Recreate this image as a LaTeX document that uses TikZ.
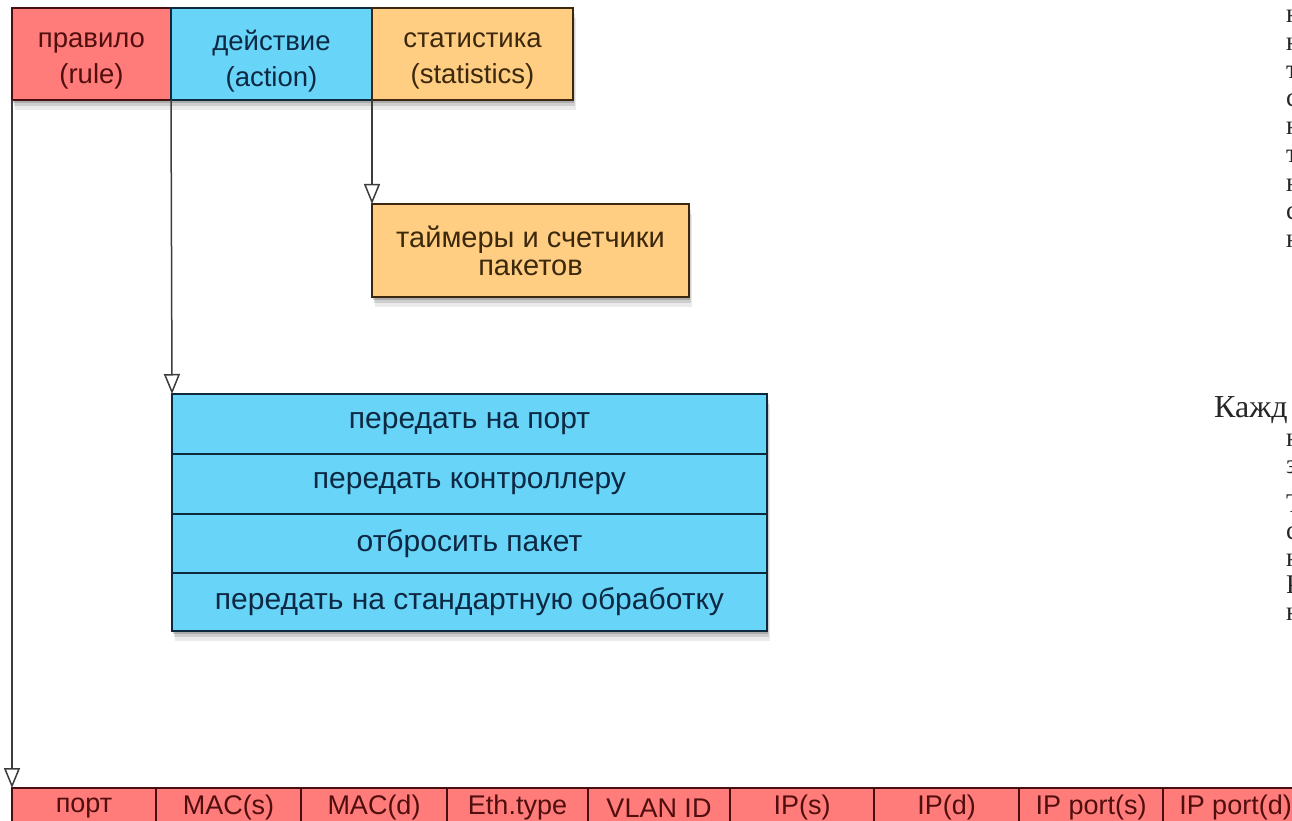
\documentclass[tikz,border=0pt]{standalone}
\usepackage{fontspec}
\setmainfont{Liberation Sans}
\newfontfamily\docserif{Liberation Serif}
\usetikzlibrary{arrows.meta,shadows}

\definecolor{cred}{RGB}{255,124,122}
\definecolor{credd}{RGB}{70,16,16}
\definecolor{credt}{RGB}{80,14,14}
\definecolor{cblue}{RGB}{104,212,248}
\definecolor{cblued}{RGB}{14,40,60}
\definecolor{cbluet}{RGB}{12,40,66}
\definecolor{corg}{RGB}{255,206,130}
\definecolor{corgd}{RGB}{60,40,14}
\definecolor{corgt}{RGB}{60,40,12}
\definecolor{cline}{RGB}{60,60,60}

\tikzset{
  softshadow/.style={
    drop shadow={shadow xshift=1pt,shadow yshift=-3pt,opacity=0.16,fill=black},
    drop shadow={shadow xshift=2pt,shadow yshift=-6pt,opacity=0.12,fill=black},
    drop shadow={shadow xshift=3pt,shadow yshift=-10pt,opacity=0.08,fill=black}},
  cell/.style={rectangle, draw, line width=1.6pt, inner sep=0pt, outer sep=0pt,
    anchor=north west, align=center, softshadow},
  redcell/.style={cell, fill=cred, draw=credd, text=credt,
    font=\fontsize{27}{35}\selectfont},
  bluecell/.style={cell, fill=cblue, draw=cblued, text=cbluet,
    font=\fontsize{30}{33}\selectfont},
  orgcell/.style={cell, fill=corg, draw=corgd, text=corgt,
    font=\fontsize{29}{28}\selectfont},
  hdtext/.style={inner sep=0pt, align=center, font=\fontsize{27.5}{36}\selectfont},
  conn/.style={line width=1.5pt, draw=cline,
    -{Triangle[open,length=20pt,width=16pt,fill=white]}},
  doctext/.style={anchor=base west, inner sep=0pt, text=black!85,
    font=\docserif\fontsize{32}{28}\selectfont},
  fragtext/.style={doctext, font=\docserif\fontsize{27}{28}\selectfont}
}

\begin{document}
\begin{tikzpicture}[x=1pt,y=-1pt]
\useasboundingbox (0,0) rectangle (1292,821);
\fill[white] (0,0) rectangle (1292,821);
\clip (0,0) rectangle (1292,821);

% header
\node[redcell, minimum width=159pt, minimum height=92pt] (rule) at (12,8) {};
\node[bluecell, minimum width=201pt, minimum height=92pt] (action) at (171,8) {};
\node[orgcell, minimum width=201pt, minimum height=92pt] (stats) at (372,8) {};
\node[hdtext, text=credt] (rule-t) at ([yshift=-7pt]rule.center) {правило\\(rule)};
\node[hdtext, text=cbluet] (action-t) at ([yshift=-7pt]action.center) {действие\\(action)};
\node[hdtext, text=corgt] (stats-t) at ([yshift=-7pt]stats.center) {статистика\\(statistics)};

% statistics box
\node[orgcell, minimum width=317pt, minimum height=93pt] (timers) at (372,204) {таймеры и счетчики\\пакетов};

% action list
\node[bluecell, minimum width=595pt, minimum height=60pt] (a1) at (172,394) {передать на порт};
\node[bluecell, minimum width=595pt, minimum height=60pt] (a2) at (172,454) {передать контроллеру};
\node[bluecell, minimum width=595pt, minimum height=59pt] (a3) at (172,514) {отбросить пакет};
\node[bluecell, minimum width=595pt, minimum height=58pt] (a4) at (172,573) {передать на стандартную обработку};

% rule fields
\node[redcell, minimum width=144pt, minimum height=40pt] (p1) at (12,788) {порт};
\node[redcell, minimum width=145pt, minimum height=40pt] (p2) at (156,788) {MAC(s)};
\node[redcell, minimum width=146pt, minimum height=40pt] (p3) at (301,788) {MAC(d)};
\node[redcell, minimum width=141pt, minimum height=40pt] (p4) at (447,788) {Eth.type};
\node[redcell, minimum width=142pt, minimum height=40pt] (p5) at (588,788) {VLAN ID};
\node[redcell, minimum width=144pt, minimum height=40pt] (p6) at (730,788) {IP(s)};
\node[redcell, minimum width=145pt, minimum height=40pt] (p7) at (874,788) {IP(d)};
\node[redcell, minimum width=144pt, minimum height=40pt] (p8) at (1019,788) {IP port(s)};
\node[redcell, minimum width=145pt, minimum height=40pt] (p9) at (1163,788) {IP port(d)};

% connectors
\draw[conn] (rule.south west) -- (p1.north west);
\draw[conn] (action.south west) -- (a1.north west);
\draw[conn] (stats.south west) -- (timers.north west);

% cropped page text on the right
\node[fragtext] (f1) at (1286,23) {н};
\node[fragtext] (f2) at (1286,51) {н};
\node[fragtext] (f3) at (1286,79) {т};
\node[fragtext] (f4) at (1286,107) {с};
\node[fragtext] (f5) at (1286,135) {н};
\node[fragtext] (f6) at (1286,163) {т};
\node[fragtext] (f7) at (1286,191) {н};
\node[fragtext] (f8) at (1286,219) {с};
\node[fragtext] (f9) at (1286,247) {н};
\node[doctext] (k) at (1214,417) {Кажд};
\node[fragtext] (f10) at (1286,446) {н};
\node[fragtext] (f11) at (1286,473) {з};
\node[fragtext] (f12) at (1286,512) {Т};
\node[fragtext] (f13) at (1286,539) {с};
\node[fragtext] (f14) at (1286,566) {н};
\node[fragtext] (f15) at (1286,593) {Р};
\node[fragtext] (f16) at (1286,620) {н};
\end{tikzpicture}
\end{document}
